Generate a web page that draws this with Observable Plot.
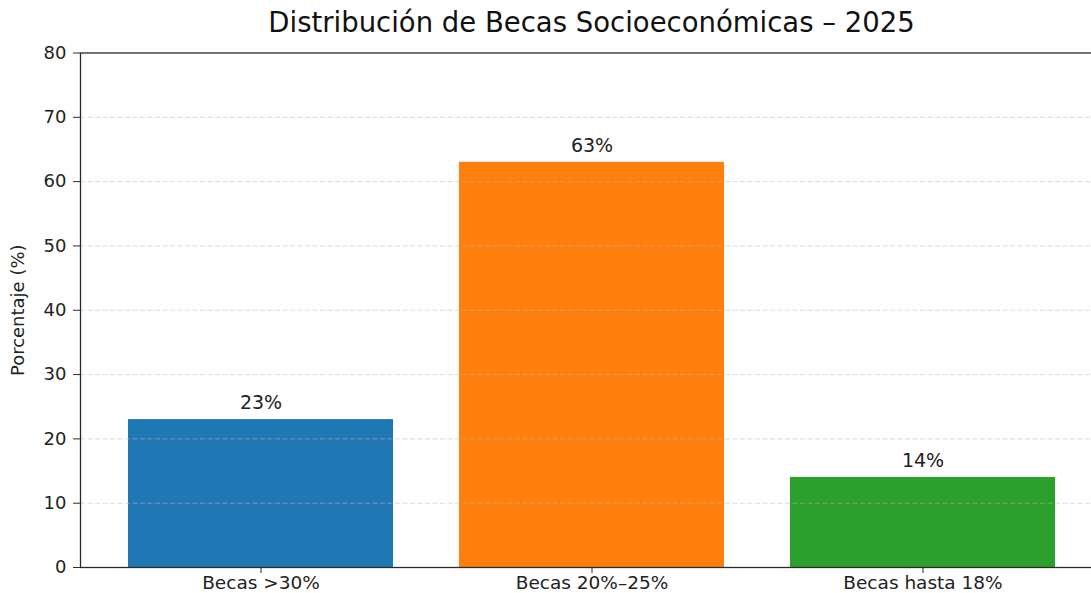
<!DOCTYPE html>
<html>
<head>
<meta charset="utf-8">
<script src="https://cdn.jsdelivr.net/npm/d3@7"></script>
<script src="https://cdn.jsdelivr.net/npm/@observablehq/plot@0.6"></script>
<style>
  html, body { margin: 0; padding: 0; background: white; overflow: hidden; }
  #chart svg { overflow: hidden; }
</style>
</head>
<body>
<div id="chart"></div>
<script>
const categories = ["Becas >30%", "Becas 20%–25%", "Becas hasta 18%"];
const values = [23, 63, 14];
const colors = ["#1f77b4", "#ff7f0e", "#2ca02c"];
const yTicks = [0, 10, 20, 30, 40, 50, 60, 70, 80];
const gridTicks = [10, 20, 30, 40, 50, 60, 70];
const titleText = "Distribución de Becas Socioeconómicas – 2025";
const yLabel = "Porcentaje (%)";

const data = categories.map((c, i) => ({cat: c, value: values[i], color: colors[i]}));
const font = "DejaVu Sans, sans-serif";

const chart = Plot.plot({
  width: 1091,
  height: 593,
  marginLeft: 80,
  marginRight: -11,
  marginTop: 52.5,
  marginBottom: 26,
  style: {fontFamily: font, background: "white", color: "#222"},
  x: {domain: categories, paddingInner: 0.2, paddingOuter: 0.14, label: null},
  y: {domain: [0, 80], label: null},
  marks: [
    Plot.barY(data, {x: "cat", y: "value", fill: "color"}),
    Plot.ruleY(gridTicks, {stroke: "#bbbbbb", strokeOpacity: 0.5, strokeDasharray: "5,2.5", strokeWidth: 1}),
    Plot.frame({stroke: "#2a2a2a", strokeWidth: 1.3}),
    Plot.axisY({ticks: yTicks, tickSize: 7, tickPadding: 7, fontSize: 18, stroke: "#2a2a2a", label: null}),
    Plot.axisX({tickSize: 6, tickPadding: 2, fontSize: 18.5, stroke: "#2a2a2a", label: null}),
    Plot.text([yLabel], {frameAnchor: "left", dx: -62, rotate: -90, textAnchor: "middle", fontSize: 18, fill: "#222", lineAnchor: "middle"}),
    Plot.text(data, {x: "cat", y: "value", text: d => d.value + "%", dy: -16.5, lineAnchor: "middle", fontSize: 19, fill: "#222"}),
    Plot.text([titleText], {frameAnchor: "top", dy: -29.5, lineAnchor: "middle", fontSize: 27.5, fill: "#111"})
  ]
});
document.getElementById("chart").appendChild(chart);
</script>
</body>
</html>
